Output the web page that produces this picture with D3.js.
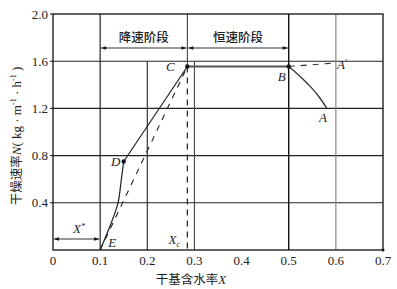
<!DOCTYPE html>
<html><head><meta charset="utf-8">
<script src="https://cdn.jsdelivr.net/npm/d3@7"></script>
<style>
body{margin:0;background:#fff;}
svg{display:block;}
text{fill:#222;}
</style></head>
<body><div id="chart"></div>
<script>
const xTicks = [0, 0.1, 0.2, 0.3, 0.4, 0.5, 0.6, 0.7];
const xTickLabels = ["0", "0.1", "0.2", "0.3", "0.4", "0.5", "0.6", "0.7"];
const yTicks = [0.4, 0.8, 1.2, 1.6, 2.0];
const yTickLabels = ["0.4", "0.8", "1.2", "1.6", "2.0"];
const Xc = 0.285, Xstar = 0.1;
const ptC = [0.285, 1.555], ptD = [0.15, 0.75], ptE = [0.1, 0], ptB = [0.5, 1.555];
const ptA = [0.581, 1.2], ptA2 = [0.6, 1.585];
const curveDE = [[0.15, 0.75], [0.145, 0.6], [0.138, 0.4], [0.1245, 0.24], [0.1, 0]];
const curveBA = [[0.5, 1.555], [0.515, 1.505], [0.531, 1.445], [0.547, 1.38], [0.563, 1.305], [0.581, 1.2]];
const gridFullX = [0.1, 0.5];
const gridLowX = [0.2, 0.3];
const gridY = [0.4, 0.8, 1.2, 1.6];

const SERIF = "'Liberation Serif','Times New Roman',serif";
const CJK = "'Noto Sans CJK SC',sans-serif";
const W = 397, H = 289;
const x = d3.scaleLinear().domain([0, 0.7]).range([53, 383]);
const y = d3.scaleLinear().domain([0, 2]).range([250, 14]);
const svg = d3.select("#chart").append("svg").attr("width", W).attr("height", H);

const defs = svg.append("defs");
defs.append("marker").attr("id", "ah").attr("viewBox", "0 0 10 10").attr("refX", 10).attr("refY", 5)
  .attr("markerWidth", 6).attr("markerHeight", 5).attr("orient", "auto-start-reverse")
  .append("path").attr("d", "M0,1.5L10,5L0,8.5Z").attr("fill", "#111");

// grid
svg.selectAll(".gy").data(gridY).enter().append("line")
  .attr("x1", x(0)).attr("x2", x(0.7)).attr("y1", d => y(d)).attr("y2", d => y(d))
  .attr("stroke", "#222").attr("stroke-width", 1.1);
svg.selectAll(".gx").data(gridFullX).enter().append("line")
  .attr("x1", d => x(d)).attr("x2", d => x(d)).attr("y1", y(2)).attr("y2", y(0))
  .attr("stroke", "#111").attr("stroke-width", d => d === 0.5 ? 1.4 : 1.1);
svg.append("line").attr("x1", x(0.6)).attr("x2", x(0.6)).attr("y1", y(2)).attr("y2", y(0))
  .attr("stroke", "#888").attr("stroke-width", 1.2);
svg.selectAll(".gl").data(gridLowX).enter().append("line")
  .attr("x1", d => x(d)).attr("x2", d => x(d)).attr("y1", y(1.6)).attr("y2", y(0))
  .attr("stroke", d => d === 0.3 ? "#444" : "#222").attr("stroke-width", 1.1);
svg.append("line").attr("x1", x(Xc)).attr("x2", x(Xc)).attr("y1", y(2)).attr("y2", y(ptC[1]))
  .attr("stroke", "#333").attr("stroke-width", 1);
svg.append("line").attr("x1", x(Xc)).attr("x2", x(Xc)).attr("y1", y(ptC[1])).attr("y2", y(0))
  .attr("stroke", "#222").attr("stroke-width", 1.2).attr("stroke-dasharray", "6,5");

// frame
svg.append("rect").attr("x", x(0)).attr("y", y(2)).attr("width", x(0.7) - x(0)).attr("height", y(0) - y(2))
  .attr("fill", "none").attr("stroke", "#111").attr("stroke-width", 1.3);

// ticks
svg.selectAll(".yt").data(yTicks).enter().append("line")
  .attr("x1", x(0) - 3).attr("x2", x(0)).attr("y1", d => y(d)).attr("y2", d => y(d)).attr("stroke", "#111");
svg.selectAll(".ytl").data(yTicks).enter().append("text")
  .attr("x", x(0) - 5).attr("y", d => y(d) + 4.5).attr("text-anchor", "end").attr("font-size", 13)
  .attr("font-family", SERIF).text((d, i) => yTickLabels[i]);
svg.selectAll(".xtl").data(xTicks).enter().append("text")
  .attr("x", d => x(d)).attr("y", 265).attr("text-anchor", "middle").attr("font-size", 13)
  .attr("font-family", SERIF).text((d, i) => xTickLabels[i]);
svg.append("circle").attr("cx", x(0.7)).attr("cy", y(0)).attr("r", 1.5).attr("fill", "#111");

// axis titles
const xt = svg.append("text").attr("x", 191).attr("y", 284).attr("text-anchor", "middle").attr("font-size", 12.5);
xt.append("tspan").attr("font-family", CJK).text("干基含水率");
xt.append("tspan").attr("font-family", SERIF).attr("font-style", "italic").attr("font-size", 13).text("X");
const yt = svg.append("text").attr("transform", "translate(21,136) rotate(-90)").attr("text-anchor", "middle")
  .attr("font-size", 13).attr("font-family", SERIF);
yt.append("tspan").attr("font-family", CJK).attr("font-size", 12.5).text("干燥速率");
yt.append("tspan").attr("font-style", "italic").text("N");
yt.append("tspan").text("( kg · m");
yt.append("tspan").attr("font-size", 8).attr("dy", -5).text("-1");
yt.append("tspan").attr("dy", 5).text(" · h");
yt.append("tspan").attr("font-size", 8).attr("dy", -5).text("-1");
yt.append("tspan").attr("dy", 5).text(" )");

// dashed E-C and B-A'
svg.append("line").attr("x1", x(ptE[0])).attr("y1", y(ptE[1])).attr("x2", x(ptC[0])).attr("y2", y(ptC[1]))
  .attr("stroke", "#222").attr("stroke-width", 1.1).attr("stroke-dasharray", "6,6");
svg.append("line").attr("x1", x(ptB[0])).attr("y1", y(ptB[1])).attr("x2", x(ptA2[0])).attr("y2", y(ptA2[1]))
  .attr("stroke", "#333").attr("stroke-width", 1.1).attr("stroke-dasharray", "6,6");

// C-B horizontal
svg.append("line").attr("x1", x(ptC[0])).attr("y1", y(ptC[1])).attr("x2", x(ptB[0])).attr("y2", y(ptB[1]))
  .attr("stroke", "#555").attr("stroke-width", 2);
svg.append("line").attr("x1", x(ptC[0])).attr("y1", y(ptC[1])).attr("x2", x(ptD[0])).attr("y2", y(ptD[1]))
  .attr("stroke", "#222").attr("stroke-width", 1.2);
const line = d3.line().x(d => x(d[0])).y(d => y(d[1])).curve(d3.curveCatmullRom);
svg.append("path").attr("d", line(curveDE)).attr("fill", "none").attr("stroke", "#222").attr("stroke-width", 1.2);
svg.append("path").attr("d", line(curveBA)).attr("fill", "none").attr("stroke", "#333").attr("stroke-width", 1.3);

// points
svg.selectAll(".pt").data([ptC, ptD, ptB]).enter().append("circle")
  .attr("cx", d => x(d[0])).attr("cy", d => y(d[1])).attr("r", 2.2).attr("fill", "#111");

function lab(px, py, dx, dy, t, sub) {
  const tx = svg.append("text").attr("x", x(px) + dx).attr("y", y(py) + dy).attr("font-family", SERIF)
    .attr("font-size", 13).attr("font-style", "italic").attr("text-anchor", "middle");
  tx.append("tspan").text(t);
  if (sub) tx.append("tspan").attr("font-size", 8).attr("dy", sub[1]).text(sub[0]);
}
lab(ptC[0], ptC[1], -17, 4, "C");
lab(ptD[0], ptD[1], -8, 4, "D");
lab(ptE[0], ptE[1], 12, -3, "E");
lab(ptB[0], ptB[1], -7, 14, "B");
lab(ptA[0], ptA[1], -4, 14, "A");
lab(ptA2[0], ptA2[1], 6, 6, "A", ["′", -4]);
lab(Xc, 0, -13, -6, "X", ["c", 3]);
lab(0, 0, 26, -17, "X", ["*", -4]);

// arrows
svg.append("line").attr("x1", x(0) + 1).attr("x2", x(Xstar) - 1).attr("y1", 239).attr("y2", 239)
  .attr("stroke", "#333").attr("stroke-width", 1).attr("marker-start", "url(#ah)").attr("marker-end", "url(#ah)");
svg.append("line").attr("x1", x(0.1) + 1).attr("x2", x(Xc) - 1).attr("y1", 48).attr("y2", 48)
  .attr("stroke", "#333").attr("stroke-width", 1).attr("marker-start", "url(#ah)").attr("marker-end", "url(#ah)");
svg.append("line").attr("x1", x(Xc) + 1).attr("x2", x(0.5) - 1).attr("y1", 48).attr("y2", 48)
  .attr("stroke", "#333").attr("stroke-width", 1).attr("marker-start", "url(#ah)").attr("marker-end", "url(#ah)");
svg.append("text").attr("font-family", CJK).attr("x", (x(0.1) + x(Xc)) / 2).attr("y", 42)
  .attr("text-anchor", "middle").attr("font-size", 12.5).attr("font-weight", 500).attr("fill", "#333").text("降速阶段");
svg.append("text").attr("font-family", CJK).attr("x", (x(Xc) + x(0.5)) / 2).attr("y", 42)
  .attr("text-anchor", "middle").attr("font-size", 12.5).attr("font-weight", 500).attr("fill", "#333").text("恒速阶段");
</script></body></html>
